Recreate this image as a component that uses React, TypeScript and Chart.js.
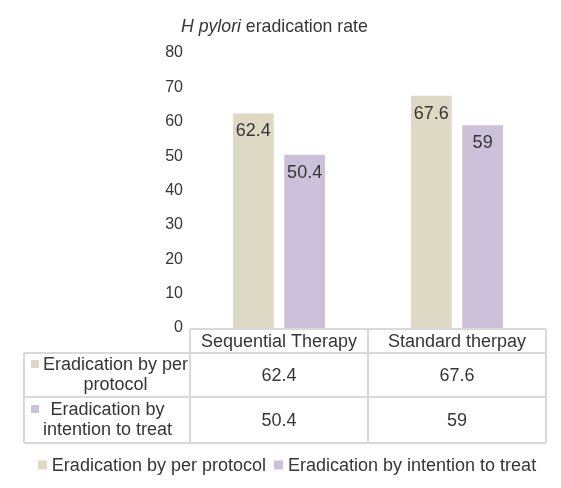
import React, { useEffect, useRef } from "react";
import { Chart, registerables } from "chart.js";

Chart.register(...registerables);

const categories = ["Sequential Therapy", "Standard therpay"];
const perProtocol = [62.4, 67.6];
const intentionToTreat = [50.4, 59];
const seriesNames = ["Eradication by per protocol", "Eradication by intention to treat"];
const seriesColors = ["#ddd9c4", "#ccc1da"];
const yMin = 0;
const yMax = 80;
const yStep = 10;
const titleItalic = "H pylori";
const titleRest = " eradication rate";

const FONT = '"Liberation Sans", Arial, Helvetica, sans-serif';
const TEXT = "#363636";
const GRID = "#d9d9d9";

function wrap(ctx: CanvasRenderingContext2D, text: string, maxW: number): string[] {
  const words = text.split(" ");
  const lines: string[] = [];
  let cur = "";
  for (const w of words) {
    const t = cur ? cur + " " + w : w;
    if (ctx.measureText(t).width > maxW && cur) {
      lines.push(cur);
      cur = w;
    } else cur = t;
  }
  if (cur) lines.push(cur);
  return lines;
}

const extrasPlugin = {
  id: "extras",
  afterDraw(chart: any) {
    const ctx: CanvasRenderingContext2D = chart.ctx;
    const area = chart.chartArea;
    const xs = chart.scales.x;
    ctx.save();

    // Title (y-axis title placed above axis)
    ctx.fillStyle = TEXT;
    ctx.textBaseline = "alphabetic";
    ctx.textAlign = "left";
    ctx.font = `italic 17.7px ${FONT}`;
    const tx = 181;
    ctx.fillText(titleItalic, tx, 32);
    const w1 = ctx.measureText(titleItalic).width;
    ctx.font = `17.7px ${FONT}`;
    ctx.fillText(titleRest, tx + w1, 32);

    // Data labels inside end
    ctx.font = `18px ${FONT}`;
    ctx.textAlign = "center";
    ctx.textBaseline = "middle";
    chart.data.datasets.forEach((ds: any, di: number) => {
      const meta = chart.getDatasetMeta(di);
      meta.data.forEach((el: any, j: number) => {
        ctx.fillText(String(ds.data[j]), el.x, el.y + 18);
      });
    });

    // Data table
    const n = categories.length;
    const catW = (area.right - area.left) / n;
    const tableLeft = 24;
    const top = Math.round(area.bottom) + 1;
    const headerH = 24;
    const rowHs = [44, 46];
    const right = Math.round(area.right);
    const colEdges: number[] = [];
    for (let i = 0; i <= n; i++) colEdges.push(Math.round(area.left + i * catW));
    const rowTops = [top + headerH];
    rowHs.forEach((h, i) => rowTops.push(rowTops[i] + h));
    const bottom = rowTops[rowTops.length - 1];

    ctx.strokeStyle = GRID;
    ctx.lineWidth = 2;
    ctx.beginPath();
    ctx.moveTo(colEdges[0], top);
    ctx.lineTo(right, top);
    rowTops.forEach((y) => {
      ctx.moveTo(tableLeft, y);
      ctx.lineTo(right, y);
    });
    ctx.moveTo(tableLeft, rowTops[0]);
    ctx.lineTo(tableLeft, bottom);
    colEdges.forEach((x) => {
      ctx.moveTo(x, top);
      ctx.lineTo(x, bottom);
    });
    ctx.stroke();

    ctx.fillStyle = TEXT;
    ctx.font = `18px ${FONT}`;
    ctx.textAlign = "center";
    ctx.textBaseline = "middle";
    categories.forEach((c, i) => {
      const cx = xs.getPixelForValue(i);
      ctx.fillText(c, cx, top + headerH / 2 + 1);
    });

    const series = [perProtocol, intentionToTreat];
    series.forEach((vals, r) => {
      const y0 = rowTops[r];
      const h = rowHs[r];
      const cy = y0 + h / 2;
      vals.forEach((v, i) => {
        const cx = xs.getPixelForValue(i);
        ctx.fillText(String(v), cx, cy + 1);
      });
      // row label with legend key
      const lines = wrap(ctx, seriesNames[r], 160);
      const lh = 20;
      const startY = cy - ((lines.length - 1) * lh) / 2;
      const box = 8;
      const boxX = tableLeft + 7;
      const textLeft = boxX + box + 4;
      const maxW = Math.max(...lines.map((l) => ctx.measureText(l).width));
      const textCx = textLeft + maxW / 2;
      ctx.fillStyle = seriesColors[r];
      ctx.fillRect(boxX, startY - box / 2 - 1, box, box);
      ctx.fillStyle = TEXT;
      lines.forEach((ln, k) => {
        ctx.fillText(ln, textCx, startY + k * lh);
      });
    });

    // Legend
    const box = 9;
    const gapBT = 5;
    const gapItems = 8;
    const widths = seriesNames.map((s) => ctx.measureText(s).width);
    const total = widths.reduce((a, w) => a + box + gapBT + w, 0) + gapItems;
    let lx = 287 - total / 2;
    const ly = 466;
    ctx.textAlign = "left";
    seriesNames.forEach((s, i) => {
      ctx.fillStyle = seriesColors[i];
      ctx.fillRect(lx, ly - box / 2 - 1, box, box);
      ctx.fillStyle = TEXT;
      ctx.fillText(s, lx + box + gapBT, ly);
      lx += box + gapBT + widths[i] + gapItems;
    });

    ctx.restore();
  },
};

export default function App() {
  const ref = useRef<HTMLCanvasElement | null>(null);
  useEffect(() => {
    document.body.style.margin = "0";
    const canvas = ref.current;
    if (!canvas) return;
    const chart = new Chart(canvas, {
      type: "bar",
      data: {
        labels: categories,
        datasets: [
          {
            label: seriesNames[0],
            data: perProtocol,
            backgroundColor: seriesColors[0],
            categoryPercentage: 0.576,
            barPercentage: 0.794,
          },
          {
            label: seriesNames[1],
            data: intentionToTreat,
            backgroundColor: seriesColors[1],
            categoryPercentage: 0.576,
            barPercentage: 0.794,
          },
        ],
      },
      options: {
        responsive: false,
        animation: false,
        layout: { padding: { top: 53, bottom: 160, left: 0, right: 15 } },
        plugins: {
          legend: { display: false },
          title: { display: false },
          tooltip: { enabled: false },
        },
        scales: {
          x: {
            display: false,
            grid: { display: false },
          },
          y: {
            min: yMin,
            max: yMax,
            ticks: {
              stepSize: yStep,
              padding: 7,
              color: TEXT,
              font: { family: FONT, size: 16 },
            },
            grid: { display: false, drawTicks: false },
            border: { display: false },
            afterFit: (s: any) => {
              s.width = 190;
            },
          },
        },
      },
      plugins: [extrasPlugin],
    });
    return () => chart.destroy();
  }, []);
  return (
    <canvas
      ref={ref}
      width={561}
      height={488}
      style={{ display: "block", width: 561, height: 488 }}
    />
  );
}
